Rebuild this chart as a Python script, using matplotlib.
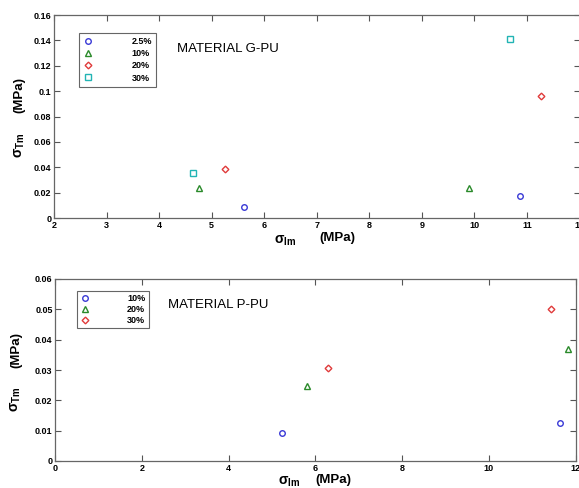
import matplotlib
matplotlib.use("Agg")
import matplotlib.pyplot as plt

plt.rcParams['font.family'] = ['Liberation Sans', 'DejaVu Sans']
plt.rcParams['mathtext.fontset'] = 'custom'
plt.rcParams['mathtext.rm'] = 'Liberation Sans:bold'
plt.rcParams['mathtext.it'] = 'Liberation Sans:italic'
plt.rcParams['mathtext.bf'] = 'Liberation Sans:bold'

# ---- Data: MATERIAL G-PU ----
gpu_labels = ['2.5%', '10%', '20%', '30%']
gpu_x = [[5.62, 10.87], [4.76, 9.89], [5.25, 11.26], [4.65, 10.67]]
gpu_y = [[0.0089, 0.0176], [0.0234, 0.0239], [0.0389, 0.0964], [0.0355, 0.141]]
gpu_xticks = [2, 3, 4, 5, 6, 7, 8, 9, 10, 11, 12]
gpu_yticks = [0, 0.02, 0.04, 0.06, 0.08, 0.1, 0.12, 0.14, 0.16]
gpu_yticklabels = ['0', '0.02', '0.04', '0.06', '0.08', '0.1', '0.12', '0.14', '0.16']

# ---- Data: MATERIAL P-PU ----
ppu_labels = ['10%', '20%', '30%']
ppu_x = [[5.22, 11.63], [5.81, 11.82], [6.29, 11.43]]
ppu_y = [[0.0092, 0.0124], [0.0246, 0.0368], [0.0308, 0.0501]]
ppu_xticks = [0, 2, 4, 6, 8, 10, 12]
ppu_yticks = [0, 0.01, 0.02, 0.03, 0.04, 0.05, 0.06]
ppu_yticklabels = ['0', '0.01', '0.02', '0.03', '0.04', '0.05', '0.06']

gpu_style = [('o', '#3a3ad6'), ('^', '#2a8a2a'), ('D', '#e03a3a'), ('s', '#22b4b4')]
ppu_style = [('o', '#3a3ad6'), ('^', '#2a8a2a'), ('D', '#e03a3a')]

W, H = 579, 488
fig = plt.figure(figsize=(W / 100, H / 100), dpi=100)
ax1 = fig.add_axes([54/W, 1-218/H, 525.5/W, 203/H])
ax2 = fig.add_axes([55.3/W, 1-461/H, 520.3/W, 182/H])

def style_axes(ax, xticks, yticks, yticklabels, xlim, ylim):
    ax.set_xlim(*xlim)
    ax.set_ylim(*ylim)
    ax.set_xticks(xticks)
    ax.set_xticklabels([str(t) for t in xticks], fontsize=6.5, fontweight='bold')
    ax.set_yticks(yticks)
    ax.set_yticklabels(yticklabels, fontsize=6.5, fontweight='bold')
    ax.tick_params(direction='in', top=True, right=True, length=4, width=0.8,
                   color='#555555', pad=2)
    for s in ax.spines.values():
        s.set_color('#666666')
        s.set_linewidth(0.9)

def draw(ax, xs, ys, labels, styles):
    for x, y, lab, (m, c) in zip(xs, ys, labels, styles):
        ms = 3.4 if m == 'D' else 4.0
        ax.plot(x, y, linestyle='none', marker=m, markersize=ms,
                markerfacecolor='none', markeredgecolor=c, markeredgewidth=1.0,
                label=lab)

def labels(ax, xs, xm, xy, ylx, ys, ym):
    ax.text(xs, xy, 'σ$_{\\rm lm}$', transform=ax.transAxes, fontsize=10,
            fontweight='bold', ha='center', va='center')
    ax.text(xm, xy + 0.01, '(MPa)', transform=ax.transAxes, fontsize=9.5,
            fontweight='bold', ha='center', va='center')
    ax.text(ylx, ys, 'σ$_{\\rm Tm}$', transform=ax.transAxes, fontsize=10,
            fontweight='bold', rotation=90, ha='center', va='center')
    ax.text(ylx, ym, '(MPa)', transform=ax.transAxes, fontsize=9.5,
            fontweight='bold', rotation=90, ha='center', va='center')

draw(ax1, gpu_x, gpu_y, gpu_labels, gpu_style)
style_axes(ax1, gpu_xticks, gpu_yticks, gpu_yticklabels, (2, 12), (0, 0.16))
leg1 = ax1.legend(loc='upper left', bbox_to_anchor=(0.0476, 0.911), borderaxespad=0,
                  fancybox=False, edgecolor='#666666', framealpha=1,
                  prop={'size': 6.5, 'weight': 'bold'}, handletextpad=4.4,
                  handlelength=1.0, labelspacing=0.35, borderpad=0.45)
leg1.get_frame().set_linewidth(0.8)
fig.text(177/W, 1-49/H, 'MATERIAL G-PU', fontsize=9.5, va='center', ha='left')
labels(ax1, 0.44, 0.54, -0.11, -0.065, 0.36, 0.606)

draw(ax2, ppu_x, ppu_y, ppu_labels, ppu_style)
style_axes(ax2, ppu_xticks, ppu_yticks, ppu_yticklabels, (0, 12), (0, 0.06))
leg2 = ax2.legend(loc='upper left', bbox_to_anchor=(0.0417, 0.934), borderaxespad=0,
                  fancybox=False, edgecolor='#666666', framealpha=1,
                  prop={'size': 6.5, 'weight': 'bold'}, handletextpad=4.2,
                  handlelength=1.0, labelspacing=0.2, borderpad=0.35)
leg2.get_frame().set_linewidth(0.8)
fig.text(168/W, 1-305/H, 'MATERIAL P-PU', fontsize=9.5, va='center', ha='left')
labels(ax2, 0.45, 0.534, -0.115, -0.075, 0.34, 0.61)

fig.savefig('out.png', dpi=100)
